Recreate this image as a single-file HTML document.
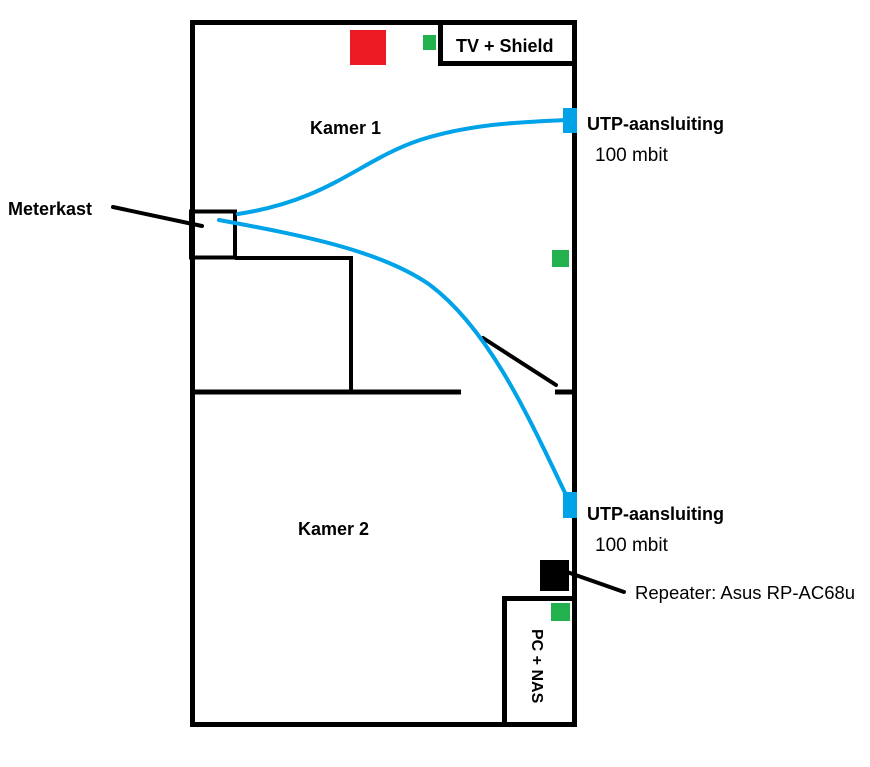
<!DOCTYPE html>
<html><head><meta charset="utf-8"><style>
html,body{margin:0;padding:0;background:#fff;width:870px;height:767px;overflow:hidden}
text{font-family:"Liberation Sans",sans-serif;fill:#000}
</style></head><body>
<svg width="870" height="767" viewBox="0 0 870 767" xmlns="http://www.w3.org/2000/svg">
<rect x="0" y="0" width="870" height="767" fill="#fff"/>
<rect x="192.5" y="22.5" width="382" height="702" fill="none" stroke="#000" stroke-width="5"/>
<rect x="440.5" y="22.5" width="134" height="41" fill="#fff" stroke="#000" stroke-width="5"/>
<text x="456" y="52" font-size="18" font-weight="bold">TV + Shield</text>
<rect x="350" y="30" width="36" height="35" fill="#ed1c24"/>
<rect x="423" y="35" width="13" height="15" fill="#22b14c"/>
<rect x="191" y="211.5" width="44" height="46" fill="none" stroke="#000" stroke-width="4"/>
<polyline points="235,258 351,258 351,392" fill="none" stroke="#000" stroke-width="4"/>
<line x1="192" y1="392" x2="461" y2="392" stroke="#000" stroke-width="5"/>
<line x1="555" y1="392" x2="575" y2="392" stroke="#000" stroke-width="5"/>
<line x1="483" y1="338" x2="556" y2="385" stroke="#000" stroke-width="4" stroke-linecap="round"/>
<path d="M238,214 C330,200 360,160 420,140 C470,124 520,122 566,120" fill="none" stroke="#00a2e8" stroke-width="4" stroke-linecap="round"/>
<path d="M219,220 C300,235 380,250 430,285 C490,330 530,420 567,497" fill="none" stroke="#00a2e8" stroke-width="4" stroke-linecap="round"/>
<rect x="563" y="108" width="14" height="25" fill="#00a2e8"/>
<rect x="563" y="492" width="14" height="26" fill="#00a2e8"/>
<rect x="552" y="250" width="17" height="17" fill="#22b14c"/>
<line x1="113" y1="207" x2="202" y2="226" stroke="#000" stroke-width="4" stroke-linecap="round"/>
<text x="8" y="215" font-size="18" font-weight="bold">Meterkast</text>
<text x="310" y="134" font-size="18" font-weight="bold">Kamer 1</text>
<text x="298" y="535" font-size="18" font-weight="bold">Kamer 2</text>
<text x="587" y="130" font-size="18" font-weight="bold">UTP-aansluiting</text>
<text x="595" y="161" font-size="19">100 mbit</text>
<text x="587" y="520" font-size="18" font-weight="bold">UTP-aansluiting</text>
<text x="595" y="551" font-size="19">100 mbit</text>
<rect x="540" y="560" width="29" height="31" fill="#000"/>
<line x1="567" y1="572" x2="624" y2="592" stroke="#000" stroke-width="4" stroke-linecap="round"/>
<text x="635" y="599" font-size="18.5">Repeater: Asus RP-AC68u</text>
<rect x="504.5" y="598.5" width="70" height="126" fill="none" stroke="#000" stroke-width="5"/>
<rect x="551" y="603" width="19" height="18" fill="#22b14c"/>
<text x="0" y="0" font-size="16" font-weight="bold" transform="translate(532,629) rotate(90)">PC + NAS</text>
</svg>
</body></html>
